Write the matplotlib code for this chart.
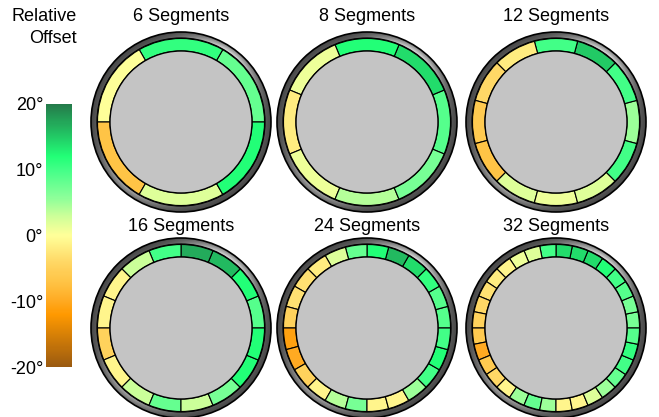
import matplotlib.pyplot as plt
import numpy as np
from matplotlib.cm import ScalarMappable
from matplotlib.colors import LinearSegmentedColormap, Normalize
from matplotlib.patches import Circle, Wedge

plt.rcParams["font.family"] = ["Liberation Sans", "DejaVu Sans"]

segment_counts = [6, 8, 12, 16, 24, 32]

# relative offset (deg) of each segment, counter-clockwise from the +x axis
offsets_6 = [8, 11, 0, -7, 2, 12]
offsets_8 = [9, 14, 12, 1, -2, 1, 4, 7]
offsets_12 = [5, 10, 15, 10, -2, -4, -6, -7, 2, 1, 2, 10]
offsets_16 = [9, 12, 16, 17, 10, 3, -1, -1, -5, -1, 3, 8, 3, 7, 12, 12]
offsets_24 = [9, 9, 11, 14, 16, 12, 8, 2, -2, -3, -3, -5,
              -11, -10, -5, -1, 4, 7, -1, -1, 5, 10, 12, 10]
offsets_32 = [7, 7, 9, 10, 12, 14, 14, 14, 10, 2, 1, -1, -2, -3, -4, -5,
              -6, -10, -6, -4, -1, 5, 8, 5, -1, -1, 2, 5, 8, 10, 11, 9]
all_offsets = [offsets_6, offsets_8, offsets_12, offsets_16, offsets_24, offsets_32]

colorbar_ticks = [20, 10, 0, -10, -20]

# 8 and 12 segment rings are centred on 0 deg, the others start there
first_edge = [0, -22.5, -15, 0, 0, 0]

W, H = 659, 417
centers_x = [181, 367, 556]
centers_y = [122, 328]
title_base = [21, 231]
R_OUT, R_SEG, R_IN = 90, 83.5, 71

cmap = LinearSegmentedColormap.from_list(
    "offset",
    [(0.0, "#9a5a10"), (0.2, "#ff9900"), (0.25, "#ffaa22"),
     (0.3125, "#ffc040"), (0.40, "#ffd866"), (0.5, "#ffff99"), (0.575, "#ccff99"),
     (0.65, "#88ff99"), (0.75, "#44ff88"), (0.80, "#22ff77"), (0.875, "#22cc66"),
     (1.0, "#247a4a")],
)
norm = Normalize(-20, 20)


def bezel(ax, n=400):
    xs = np.linspace(-R_OUT, R_OUT, n)
    X, Y = np.meshgrid(xs, xs)
    theta = np.arctan2(Y, X)
    depth = np.clip((R_OUT - np.hypot(X, Y)) / (R_OUT - R_SEG), 0, 1)
    glint = (0.6 * np.clip(np.cos(theta - np.deg2rad(55)), 0, 1) ** 8
             + 0.35 * np.clip(np.cos(theta - np.deg2rad(230)), 0, 1) ** 8)
    grey = np.clip(0.27 + glint * (0.4 + 0.6 * depth) + 0.08 * depth, 0, 1)
    im = ax.imshow(grey, cmap="gray", vmin=0, vmax=1, origin="lower",
                   extent=(-R_OUT, R_OUT, -R_OUT, R_OUT), interpolation="bilinear")
    ring = Wedge((0, 0), R_OUT, 0, 360, width=R_OUT - R_SEG, transform=ax.transData)
    im.set_clip_path(ring)
    ax.add_patch(Circle((0, 0), R_OUT, fill=False, ec="black", lw=1.2))
    ax.add_patch(Circle((0, 0), R_SEG, fill=False, ec="black", lw=1.6))


fig = plt.figure(figsize=(W / 100, H / 100), dpi=100)

for k, (count, offsets) in enumerate(zip(segment_counts, all_offsets)):
    cx = centers_x[k % 3]
    cy = centers_y[k // 3]
    size = 2 * R_OUT + 4
    ax = fig.add_axes([(cx - size / 2) / W, 1 - (cy + size / 2) / H, size / W, size / H])
    ax.set_xlim(-size / 2, size / 2)
    ax.set_ylim(-size / 2, size / 2)
    ax.set_aspect("equal")
    ax.axis("off")

    bezel(ax)
    step = 360 / count
    for i, value in enumerate(offsets):
        t1 = first_edge[k] + i * step
        ax.add_patch(Wedge((0, 0), R_SEG, t1, t1 + step, width=R_SEG - R_IN,
                           fc=cmap(norm(value)), ec="black", lw=0.8))
    ax.add_patch(Circle((0, 0), R_IN, fc="#c4c4c4", ec="black", lw=1.0))

    fig.text(cx / W, 1 - title_base[k // 3] / H, f"{count} Segments",
             ha="center", va="baseline", fontsize=13)

# colour scale
cax = fig.add_axes([46 / W, 1 - 367 / H, 26 / W, 263 / H])
cb = fig.colorbar(ScalarMappable(norm=norm, cmap=cmap), cax=cax, ticks=colorbar_ticks)
cb.outline.set_visible(False)
cax.yaxis.set_ticks_position("left")
cax.set_yticklabels([f"{t}°" for t in colorbar_ticks])
cax.tick_params(length=0, pad=2, labelsize=13)

fig.text(77 / W, 1 - 8 / H, "Relative\nOffset", ha="right", va="top",
         fontsize=13, linespacing=1.35, multialignment="right")

fig.savefig("out.png", dpi=100)
